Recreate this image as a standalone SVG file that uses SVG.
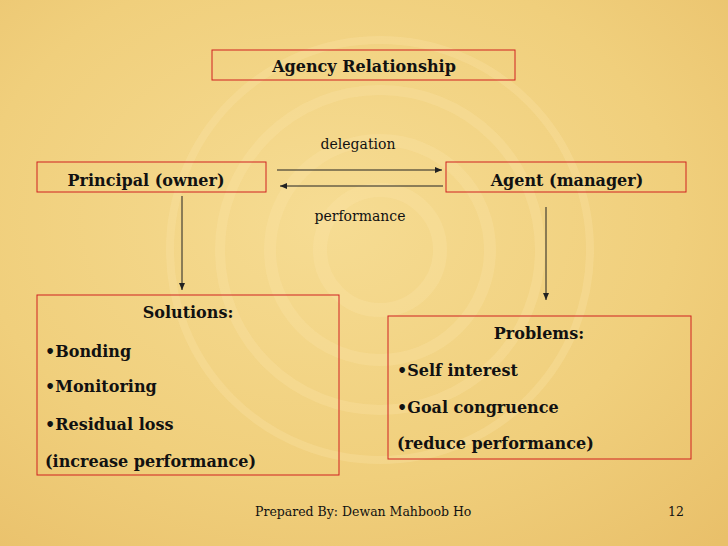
<svg xmlns="http://www.w3.org/2000/svg" width="728" height="546" viewBox="0 0 728 546">
<defs>
<radialGradient id="bg" cx="0.45" cy="0.4" r="0.8">
<stop offset="0" stop-color="#f6dc93"/><stop offset="0.6" stop-color="#f0cf7c"/><stop offset="1" stop-color="#e9c06a"/>
</radialGradient>
<marker id="ah" markerWidth="8" markerHeight="8" refX="7" refY="4" orient="auto" markerUnits="userSpaceOnUse">
<path d="M0,1 L7,4 L0,7 z" fill="#222"/>
</marker>
<style>
.box{fill:none;stroke:#d02020;stroke-width:1}
.b{font-family:"DejaVu Serif",serif;font-weight:bold;font-size:16px;fill:#111}
.n{font-family:"DejaVu Serif",serif;font-size:14px;fill:#111}
.f{font-family:"DejaVu Serif",serif;font-size:12.5px;fill:#111}
.ln{stroke:#222;stroke-width:1;fill:none;marker-end:url(#ah)}
.ring{fill:none;stroke:#fbe6a8;opacity:0.3}
</style>
</defs>
<rect width="728" height="546" fill="url(#bg)"/>
<g>
<circle class="ring" cx="380" cy="250" r="60" stroke-width="14"/>
<circle class="ring" cx="380" cy="250" r="110" stroke-width="12"/>
<circle class="ring" cx="380" cy="250" r="160" stroke-width="10"/>
<circle class="ring" cx="380" cy="250" r="210" stroke-width="8"/>
</g>
<g id="title"><rect class="box" x="212" y="50" width="303" height="30"/><text class="b" x="364" y="72" text-anchor="middle">Agency Relationship</text></g>
<g id="principal"><rect class="box" x="37" y="162" width="229" height="30"/><text class="b" x="146" y="186" text-anchor="middle">Principal (owner)</text></g>
<g id="agent"><rect class="box" x="446" y="162" width="240" height="30"/><text class="b" x="567" y="186" text-anchor="middle">Agent (manager)</text></g>
<g id="solutions"><rect class="box" x="37" y="295" width="302" height="180"/>
<text class="b" x="188" y="318" text-anchor="middle">Solutions:</text>
<text class="b" x="45" y="357">•Bonding</text>
<text class="b" x="45" y="392">•Monitoring</text>
<text class="b" x="45" y="430">•Residual loss</text>
<text class="b" x="45" y="467">(increase performance)</text></g>
<g id="problems"><rect class="box" x="388" y="316" width="303" height="143"/>
<text class="b" x="539" y="339" text-anchor="middle">Problems:</text>
<text class="b" x="397" y="376">•Self interest</text>
<text class="b" x="397" y="413">•Goal congruence</text>
<text class="b" x="397" y="449">(reduce performance)</text></g>
<g id="connectors">
<line class="ln" x1="277" y1="170" x2="442" y2="170"/>
<line class="ln" x1="443" y1="186" x2="280" y2="186"/>
<line class="ln" x1="182" y1="196" x2="182" y2="290"/>
<line class="ln" x1="546" y1="207" x2="546" y2="300"/>
<text class="n" x="358" y="149" text-anchor="middle">delegation</text>
<text class="n" x="360" y="221" text-anchor="middle">performance</text>
</g>
<text class="f" x="255" y="516">Prepared By: Dewan Mahboob Ho</text>
<text class="f" x="668" y="516">12</text>
</svg>
